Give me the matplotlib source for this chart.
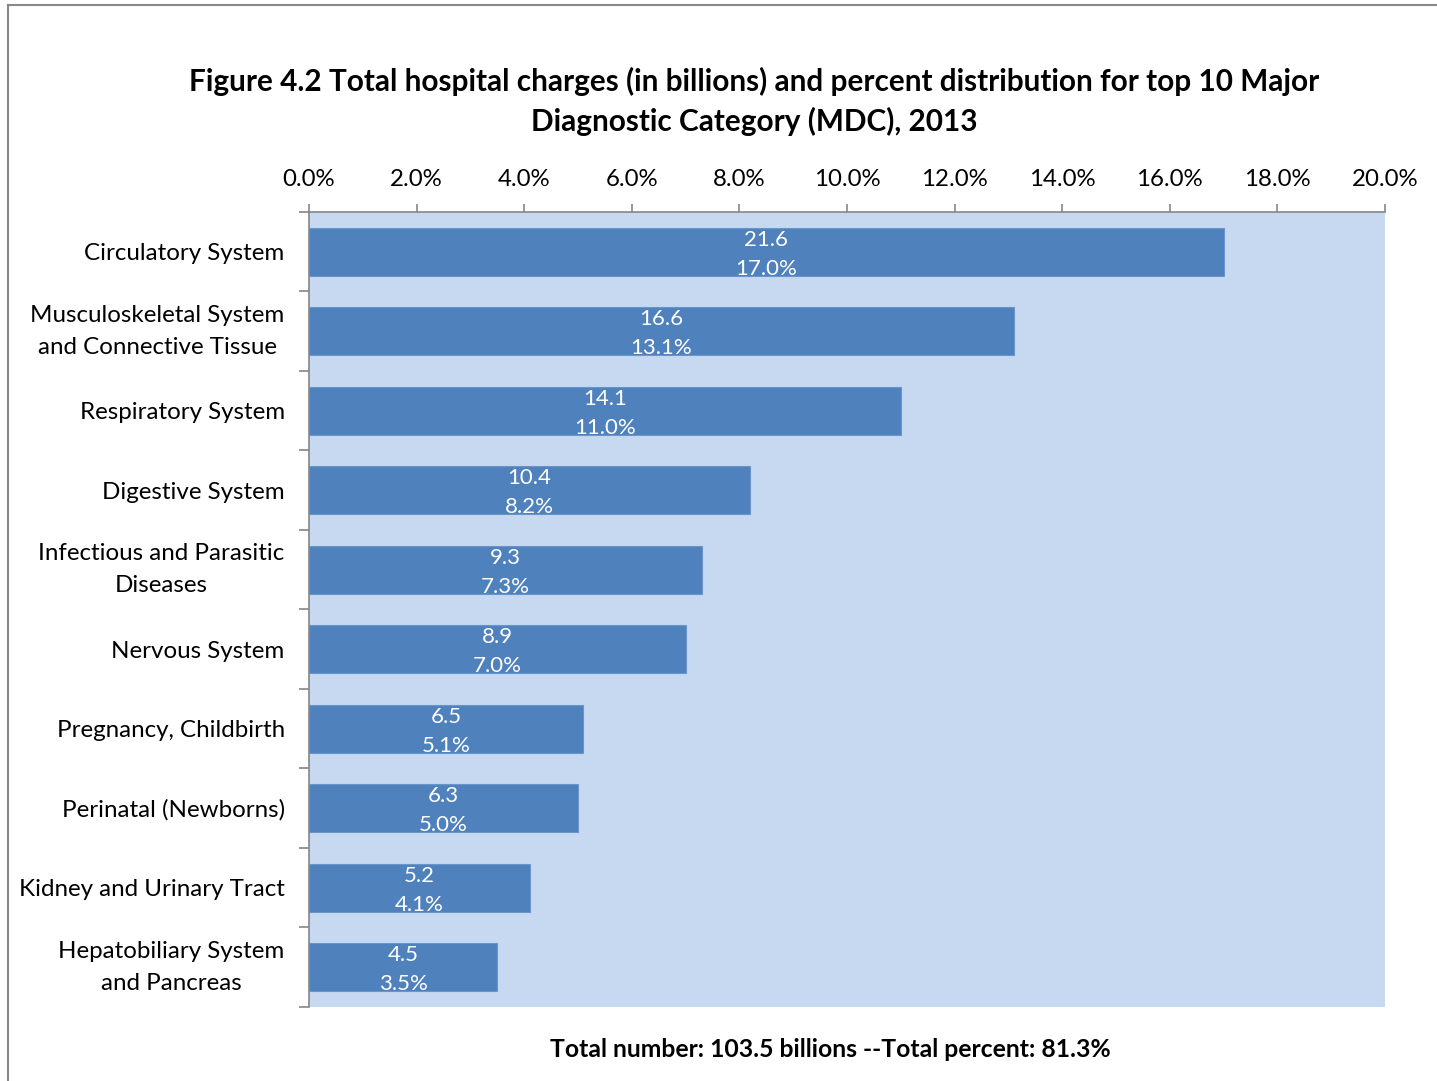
import matplotlib.pyplot as plt
import numpy as np
from matplotlib.lines import Line2D

# top 10 MDC, 2013
categories = ["Circulatory System",
              "Musculoskeletal System\nand Connective Tissue",
              "Respiratory System",
              "Digestive System",
              "Infectious and Parasitic\nDiseases",
              "Nervous System",
              "Pregnancy, Childbirth",
              "Perinatal (Newborns)",
              "Kidney and Urinary Tract",
              "Hepatobiliary System\nand Pancreas"]
charges = [21.6, 16.6, 14.1, 10.4, 9.3, 8.9, 6.5, 6.3, 5.2, 4.5]   # billions
percent = [17.0, 13.1, 11.0, 8.2, 7.3, 7.0, 5.1, 5.0, 4.1, 3.5]
xticks = [0, 2, 4, 6, 8, 10, 12, 14, 16, 18, 20]

plt.rcParams['font.family'] = ['Lato', 'DejaVu Sans']

fig = plt.figure(figsize=(14.37, 10.81), dpi=100)
ax = fig.add_axes([0.215, 0.0685, 0.7488, 0.7354])
ax.set_facecolor('#C6D9F1')

y = np.arange(len(categories))
ax.barh(y, percent, height=0.6, color='#4F81BD', edgecolor='#6A95CA', linewidth=0.8)
for yi, c, p in zip(y, charges, percent):
    ax.text(p / 2, yi + 0.03, "%.1f\n%.1f%%" % (c, p), color='white', ha='center', va='center',
            fontsize=16, linespacing=1.56)

ax.set_xlim(0, 20)
ax.set_ylim(len(categories) - 0.5, -0.5)
ax.xaxis.tick_top()
ax.set_xticks(xticks)
ax.set_xticklabels(["%.1f%%" % t for t in xticks], fontsize=17.3)
ax.tick_params(axis='x', direction='out', length=6, width=1.2, color='#868686', pad=10)

# category ticks sit on the boundaries, labels in the middle
ax.set_yticks(np.arange(len(categories) + 1) - 0.5)
ax.set_yticklabels([])
ax.tick_params(axis='y', which='major', direction='out', length=7, width=1.2, color='#868686')
ax.set_yticks(y, minor=True)
ax.set_yticklabels(categories, minor=True, fontsize=17.4, multialignment='center', linespacing=1.66)
ax.tick_params(axis='y', which='minor', length=0, pad=17.5)
for lab in ax.get_yticklabels(minor=True):
    if '\n' in lab.get_text():
        lab.set_va('center')

for s in ['right', 'bottom']:
    ax.spines[s].set_visible(False)
for s in ['left', 'top']:
    ax.spines[s].set_color('#868686')
    ax.spines[s].set_linewidth(1.2)

fig.text(0.525, 0.906, "Figure 4.2 Total hospital charges (in billions) and percent distribution for top 10 Major\nDiagnostic Category (MDC), 2013",
         ha='center', va='center', fontsize=21.4, fontweight='bold', linespacing=1.47)
fig.text(0.578, 0.029, "Total number: 103.5 billions --Total percent: 81.3%",
         ha='center', va='center', fontsize=17.8, fontweight='bold')

# outer chart frame
fig.add_artist(Line2D([8 / 1437, 8 / 1437], [0, 1 - 5 / 1081], color='#888888', lw=1.5,
                      transform=fig.transFigure))
fig.add_artist(Line2D([8 / 1437, 1], [1 - 5 / 1081, 1 - 5 / 1081], color='#888888', lw=1.5,
                      transform=fig.transFigure))

fig.savefig('out.png', dpi=100)
